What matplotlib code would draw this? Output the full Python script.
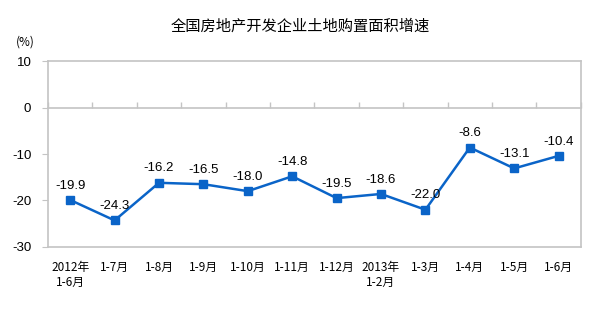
import numpy as np
import matplotlib.pyplot as plt

plt.rcParams['font.family'] = ['Noto Sans CJK SC', 'DejaVu Sans']

# data
months = ["2012年\n1-6月", "1-7月", "1-8月", "1-9月", "1-10月", "1-11月",
          "1-12月", "2013年\n1-2月", "1-3月", "1-4月", "1-5月", "1-6月"]
growth = [-19.9, -24.3, -16.2, -16.5, -18.0, -14.8, -19.5, -18.6, -22.0, -8.6, -13.1, -10.4]
yticks = [10, 0, -10, -20, -30]

BLUE = "#0a64c8"
GRAY = "#c4c4c4"

fig = plt.figure(figsize=(6.0, 3.27), dpi=100)
ax = fig.add_axes([0.080, 0.245, 0.888, 0.568])

x = np.arange(len(months))
ax.plot(x, growth, color=BLUE, lw=1.8, marker="s", ms=5.5, mec=BLUE, mfc=BLUE)
for xi, v in zip(x, growth):
    ax.annotate(f"{v:.1f}", (xi, v), xytext=(0, 6), textcoords="offset points",
                ha="center", va="bottom", fontsize=9.5, family="Liberation Sans")

ax.set_xlim(-0.5, len(months) - 0.5)
ax.set_ylim(-30, 10)
ax.set_yticks(yticks)
ax.set_yticklabels([str(t) for t in yticks], family="Liberation Sans", fontsize=9.5)
ax.tick_params(axis="y", length=4, color=GRAY, pad=8)

# axis line through zero with category boundary ticks
ax.spines["bottom"].set_position(("data", 0))
ax.set_xticks(np.arange(len(months) + 1) - 0.5)
ax.set_xticklabels([])
ax.tick_params(axis="x", direction="in", length=4, color=GRAY, width=1)
for s in ["left", "right", "top", "bottom"]:
    ax.spines[s].set_color(GRAY)
    ax.spines[s].set_linewidth(1.2)

sec = ax.secondary_xaxis(0)
sec.set_xticks(x)
sec.set_xticklabels(months, fontsize=8.5, linespacing=1.25, weight="medium")
sec.tick_params(length=0, pad=10)
sec.spines["bottom"].set_color(GRAY)
sec.spines["bottom"].set_linewidth(1.2)

fig.text(0.5, 0.92, "全国房地产开发企业土地购置面积增速", ha="center", va="center", fontsize=11)
fig.text(0.042, 0.87, "(%)", ha="center", va="center", fontsize=8.5)

fig.savefig("out.png", dpi=100, facecolor="white")
